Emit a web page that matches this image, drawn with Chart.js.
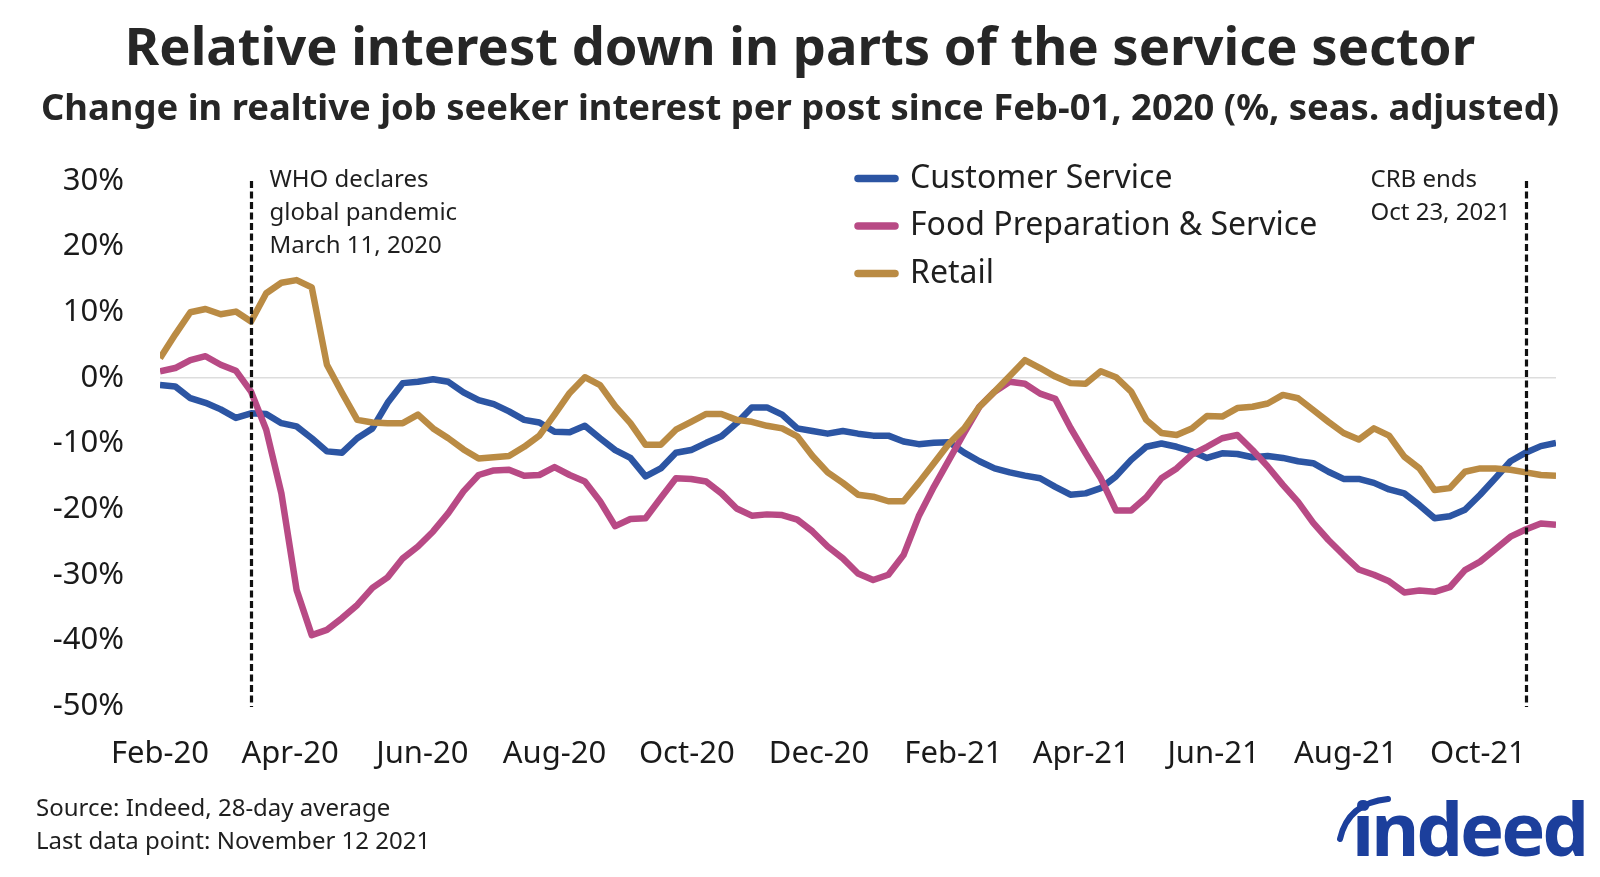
<!DOCTYPE html>
<html>
<head>
<meta charset="utf-8">
<script src="https://cdn.jsdelivr.net/npm/chart.js@4.4.1/dist/chart.umd.min.js"></script>
<style>
  html, body { margin: 0; padding: 0; background: #fff; }
  body { width: 1600px; height: 877px; position: relative; overflow: hidden; font-family: "Noto Sans", sans-serif; color: #262626; }
  #chart { position: absolute; left: 0; top: 0; }
  .title { position: absolute; left: 0; width: 1600px; text-align: center; font-weight: 700; line-height: 1; white-space: nowrap; }
  #t1 { top: 19px; font-size: 52.5px; }
  #t2 { top: 88px; font-size: 36.4px; }
  .note { position: absolute; left: 36px; font-size: 24px; line-height: 1; color: #1f1f1f; }
  #logo { position: absolute; left: 1352px; top: 791px; font-size: 74px; font-weight: 700; line-height: 1; color: #1c3f9c; letter-spacing: -3px; }
  #swoosh { position: absolute; left: 1336px; top: 795px; }
</style>
</head>
<body>
<canvas id="chart" width="1600" height="877"></canvas>
<div class="title" id="t1">Relative interest down in parts of the service sector</div>
<div class="title" id="t2">Change in realtive job seeker interest per post since Feb-01, 2020 (%, seas. adjusted)</div>
<div class="note" style="top: 795px;">Source: Indeed, 28-day average</div>
<div class="note" style="top: 828px;">Last data point: November 12 2021</div>
<svg id="swoosh" width="60" height="50"><path d="M4 44 Q 12 8 52 4" fill="none" stroke="#1c3f9c" stroke-width="6" stroke-linecap="round"/></svg>
<div id="logo">indeed</div>
<script>
// weekly points starting Feb-01, 2020 (x = days since start)
const startDate = new Date(2020, 1, 1);
const customerService = [-1.1, -1.3, -3.1, -3.8, -4.8, -6.1, -5.4, -5.5, -6.9, -7.4, -9.2, -11.2, -11.4, -9.2, -7.7, -3.8,
  -0.8, -0.6, -0.2, -0.6, -2.2, -3.4, -4.0, -5.1, -6.4, -6.8, -8.2, -8.3, -7.3, -9.2, -11.0, -12.2, -15.0, -13.8, -11.4,
  -11.0, -9.9, -8.9, -6.9, -4.5, -4.5, -5.6, -7.7, -8.1, -8.5, -8.1, -8.5, -8.8, -8.8, -9.7, -10.1, -9.9, -9.8, -11.4,
  -12.7, -13.8, -14.4, -14.9, -15.3, -16.6, -17.8, -17.6, -16.8, -15.0, -12.5, -10.5, -10.0, -10.5, -11.2, -12.2, -11.5,
  -11.6, -12.1, -11.9, -12.2, -12.7, -13.0, -14.3, -15.4, -15.4, -16.0, -17.0, -17.6, -19.4, -21.4, -21.1, -20.1, -17.8,
  -15.3, -12.7, -11.4, -10.4, -9.9];
const foodPrep = [1.0, 1.5, 2.7, 3.3, 2.0, 1.1, -2.1, -7.9, -17.6, -32.3, -39.2, -38.4, -36.6, -34.6, -32.0, -30.4, -27.5,
  -25.7, -23.4, -20.6, -17.3, -14.8, -14.1, -14.0, -14.9, -14.8, -13.6, -14.8, -15.8, -18.8, -22.6, -21.5, -21.4, -18.3,
  -15.3, -15.4, -15.8, -17.6, -19.9, -21.0, -20.8, -20.9, -21.6, -23.4, -25.7, -27.5, -29.8, -30.8, -30.0, -27.0, -21.1,
  -16.6, -12.5, -8.4, -4.4, -2.1, -0.6, -0.9, -2.4, -3.2, -7.6, -11.5, -15.3, -20.2, -20.2, -18.2, -15.3, -13.8, -11.7,
  -10.5, -9.2, -8.7, -11.0, -13.5, -16.3, -18.9, -22.1, -24.7, -27.0, -29.2, -30.0, -31.0, -32.7, -32.4, -32.6, -31.9,
  -29.3, -28.0, -26.1, -24.2, -23.1, -22.2, -22.4];
const retail = [3.0, 6.6, 10.0, 10.5, 9.7, 10.1, 8.6, 12.9, 14.5, 14.9, 13.8, 2.0, -2.3, -6.4, -6.8, -6.9, -6.9, -5.6,
  -7.7, -9.2, -10.9, -12.3, -12.1, -11.9, -10.5, -8.8, -5.6, -2.3, 0.1, -1.1, -4.3, -6.9, -10.2, -10.2, -7.9, -6.7, -5.5,
  -5.5, -6.4, -6.7, -7.3, -7.7, -8.9, -11.9, -14.4, -16.0, -17.8, -18.1, -18.8, -18.8, -16.0, -13.0, -10.0, -7.7, -4.4,
  -2.1, 0.3, 2.7, 1.5, 0.2, -0.8, -0.9, 1.0, 0.1, -2.1, -6.4, -8.4, -8.7, -7.7, -5.8, -5.9, -4.6, -4.4, -3.9, -2.6, -3.1,
  -4.9, -6.7, -8.4, -9.4, -7.7, -8.8, -12.0, -13.8, -17.1, -16.8, -14.3, -13.8, -13.8, -14.0, -14.4, -14.8, -14.9];
const seriesNames = ['Customer Service', 'Food Preparation & Service', 'Retail'];
const seriesColors = ['#2c55a3', '#b84a85', '#ba8b44'];
const tickLabels = ['Feb-20', 'Apr-20', 'Jun-20', 'Aug-20', 'Oct-20', 'Dec-20', 'Feb-21', 'Apr-21', 'Jun-21', 'Aug-21', 'Oct-21'];
const events = [
  { date: new Date(2020, 2, 11), lines: ['WHO declares', 'global pandemic', 'March 11, 2020'], side: 'right' },
  { date: new Date(2021, 9, 23), lines: ['CRB ends', 'Oct 23, 2021'], side: 'left' }
];

const DAY = 86400000;
const daysSince = d => Math.round((d - startDate) / DAY);
const tickDays = tickLabels.map((_, i) => daysSince(new Date(2020, 1 + 2 * i, 1)));
const toPoints = arr => arr.map((v, i) => ({ x: i * 7, y: v }));

const tickFont = { family: 'Noto Sans', size: 31 };

// vertical event lines (snapped to the weekly point on or after the date), event text, legend
const overlay = {
  id: 'overlay',
  afterDatasetsDraw(chart) {
    const { ctx, chartArea, scales } = chart;
    ctx.save();
    events.forEach(ev => {
      const day = Math.ceil(daysSince(ev.date) / 7) * 7;
      const x = Math.round(scales.x.getPixelForValue(day)) + 0.5;
      ctx.strokeStyle = '#111';
      ctx.lineWidth = 3.2;
      ctx.setLineDash([7, 3.5]);
      ctx.beginPath();
      ctx.moveTo(x, chartArea.top);
      ctx.lineTo(x, chartArea.bottom + 1);
      ctx.stroke();
      ctx.setLineDash([]);
      ctx.fillStyle = '#1f1f1f';
      ctx.font = '24px "Noto Sans"';
      ctx.textBaseline = 'middle';
      ctx.textAlign = 'left';
      const tx = ev.side === 'right' ? x + 18 : x - 156;
      ev.lines.forEach((t, j) => ctx.fillText(t, tx, 180.5 + j * 32.7));
    });
    chart.data.datasets.forEach((ds, i) => {
      const y = 178.5 + i * 47.5;
      ctx.strokeStyle = ds.borderColor;
      ctx.lineWidth = 7.5;
      ctx.lineCap = 'round';
      ctx.beginPath();
      ctx.moveTo(858, y);
      ctx.lineTo(895, y);
      ctx.stroke();
      ctx.fillStyle = '#1f1f1f';
      ctx.font = '32px "Noto Sans"';
      ctx.textBaseline = 'middle';
      ctx.fillText(ds.label, 910, y);
    });
    ctx.restore();
  }
};

new Chart(document.getElementById('chart').getContext('2d'), {
  type: 'line',
  data: {
    datasets: [customerService, foodPrep, retail].map((arr, i) => ({
      label: seriesNames[i],
      data: toPoints(arr),
      borderColor: seriesColors[i],
      order: 3 - i
    }))
  },
  options: {
    responsive: false,
    animation: false,
    layout: { padding: { top: 181, right: 44, bottom: 91, left: 0 } },
    plugins: { legend: { display: false }, tooltip: { enabled: false }, title: { display: false } },
    elements: {
      point: { radius: 0 },
      line: { tension: 0, borderWidth: 6.5, borderJoinStyle: 'round', borderCapStyle: 'butt' }
    },
    scales: {
      x: {
        type: 'linear',
        min: 0,
        max: 644,
        grid: { display: false, drawTicks: false },
        border: { display: false },
        afterBuildTicks: s => { s.ticks = tickDays.map(v => ({ value: v })); },
        afterFit: s => { s.height = 80; },
        ticks: { autoSkip: false, maxRotation: 0, padding: 30, font: tickFont, color: '#1a1a1a',
          callback: (v, i) => tickLabels[i] }
      },
      y: {
        min: -50,
        max: 30,
        afterFit: s => { s.width = 160; },
        grid: { drawTicks: false, lineWidth: 1.5, color: c => c.tick && c.tick.value === 0 ? '#dddddd' : 'rgba(0,0,0,0)' },
        border: { display: false },
        ticks: { stepSize: 10, padding: 36, font: tickFont, color: '#1a1a1a', callback: v => v + '%' }
      }
    }
  },
  plugins: [overlay]
});
</script>
</body>
</html>
